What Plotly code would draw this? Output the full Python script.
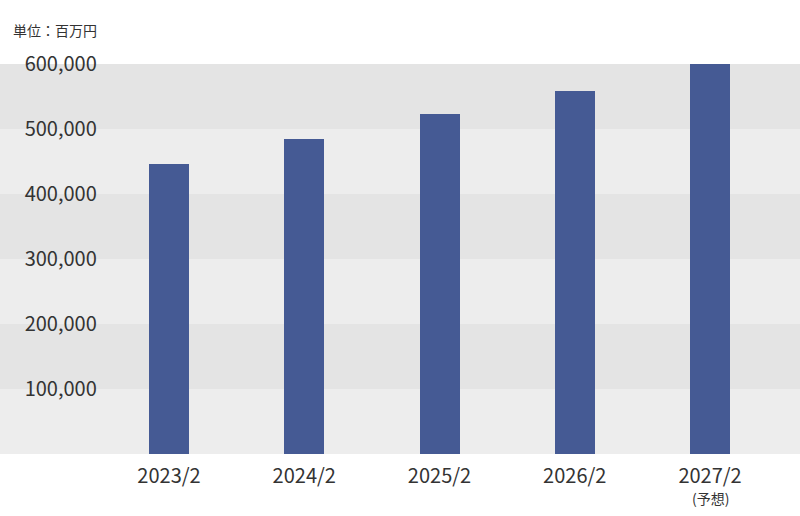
import plotly.graph_objects as go

# data
years = ["2023/2", "2024/2", "2025/2", "2026/2", "2027/2"]
sales = [446000, 485000, 523000, 558000, 600000]
y_ticks = [100000, 200000, 300000, 400000, 500000, 600000]
band_edges = [0, 100000, 200000, 300000, 400000, 500000, 600000]
forecast_note = "(予想)"

font_name = "Noto Sans CJK JP"
text_col = "#333333"

fig = go.Figure()
fig.add_trace(go.Bar(x=years, y=sales, width=0.296, marker_color="#455a94",
                     marker_line_width=0, showlegend=False, hoverinfo="skip"))

# alternating grey bands behind the bars
for i in range(len(band_edges) - 1):
    fig.add_shape(type="rect", xref="paper", yref="y", x0=0, x1=1,
                  y0=band_edges[i], y1=band_edges[i + 1],
                  fillcolor="#ededed" if i % 2 == 0 else "#e4e4e4",
                  line_width=0, layer="below")

fig.add_annotation(text="単位：百万円", xref="paper", yref="paper", x=0, y=1,
                   xanchor="left", yanchor="middle", showarrow=False,
                   font=dict(family=font_name, size=14, color=text_col),
                   xshift=11, yshift=34)
fig.add_annotation(text=forecast_note, xref="x", yref="paper", x=years[-1], y=0,
                   xanchor="center", yanchor="middle", showarrow=False,
                   font=dict(family=font_name, size=14, color=text_col),
                   yshift=-44)

fig.update_layout(
    width=800, height=516,
    margin=dict(l=0, r=0, t=64, b=62),
    paper_bgcolor="white", plot_bgcolor="white",
    font=dict(family=font_name, color=text_col),
    bargap=0,
    xaxis=dict(range=[-1.2495, 4.665], tickvals=years,
               showgrid=False, zeroline=False, showline=False,
               ticklabelstandoff=8,
               tickfont=dict(size=20, color=text_col)),
    yaxis=dict(range=[0, 600000], tickvals=y_ticks, tickformat=",d",
               anchor="free", position=0.121, side="left",
               showgrid=False, zeroline=False, showline=False,
               tickfont=dict(size=20, color=text_col)),
)

fig.write_html("out.html", config={"displayModeBar": False},
               post_script="document.body.style.margin='0';")
